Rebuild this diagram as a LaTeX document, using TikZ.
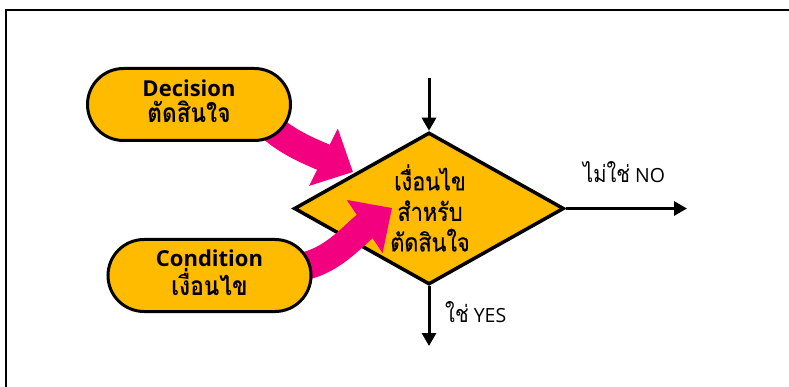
\documentclass[tikz,border=0pt]{standalone}
\usepackage{fontspec}
\setmainfont{Open Sans}
\newfontfamily\thai[Script=Thai,Scale=1.2,FakeStretch=0.86]{Loma}
\newfontfamily\thaimid[Script=Thai,Scale=1.2,FakeStretch=0.86,FakeBold=0.5]{Loma}
\usetikzlibrary{shapes.geometric,shapes.misc,arrows.meta}
\definecolor{fillamber}{RGB}{255,187,0}
\definecolor{hotpink}{RGB}{242,0,128}
\pgfdeclarelayer{front}
\pgfsetlayers{main,front}
\begin{document}
\begin{tikzpicture}[x=1pt,y=-1pt,
  pill/.style={rounded rectangle, draw=black, line width=3pt, fill=fillamber,
    minimum width=203pt, minimum height=72pt, inner sep=0pt, align=center,
    text depth=6pt, font=\bfseries\fontsize{22}{26}\selectfont},
  decision/.style={diamond, draw=black, line width=3.5pt, fill=fillamber,
    minimum width=270pt, minimum height=152pt, inner sep=0pt},
  flow/.style={line width=3pt, -{Triangle[width=14pt,length=13pt]}},
  bigarrow/.style={draw=hotpink, line width=28pt, -{Triangle[width=62pt,length=33pt]}},
  lbl/.style={font=\fontsize{19.5}{23}\selectfont, anchor=base west, inner sep=0pt}
]
\useasboundingbox (0,0) rectangle (789,387);

% open frame: top and left edges
\draw[line width=2pt] (6,387) -- (6,10) -- (789,10);

% decision diamond and its text
\node[decision] (dia) at (429,208.5) {};
\node[font=\thaimid\fontsize{21}{30.5}\selectfont, align=center, inner sep=0pt] (dtext) at (430,208) {เงื่อนไข\\สำหรับ\\ตัดสินใจ};

% input pills
\begin{pgfonlayer}{front}
\node[pill] (dec) at (189,104.5) {Decision\\{\thai ตัดสินใจ}};
\node[pill] (cnd) at (209.5,275.5) {Condition\\{\thai เงื่อนไข}};
\end{pgfonlayer}

% flow arrows
\coordinate (in) at (429,78);
\coordinate (noend) at (687,208.5);
\coordinate (yesend) at (429,346);
\draw[flow] (in) -- (dia.north);
\draw[flow] (dia.east) -- (noend);
\draw[flow] (dia.south) -- (yesend);

\node[lbl] (nolbl) at (583,183) {{\thai ไม่ใช่} NO};
\node[lbl] (yeslbl) at (445,322) {{\thai ใช่} YES};

% pink arrows from the pills into the diamond
\coordinate (a1s) at (262,118);
\coordinate (a1t) at (353,172);
\coordinate (a2s) at (292,268);
\coordinate (a2t) at (392,208);
\draw[bigarrow] (a1s) .. controls (282,142) and (317,154) .. (a1t);
\draw[bigarrow] (a2s) .. controls (330,266) and (355,233) .. (a2t);
\end{tikzpicture}
\end{document}
